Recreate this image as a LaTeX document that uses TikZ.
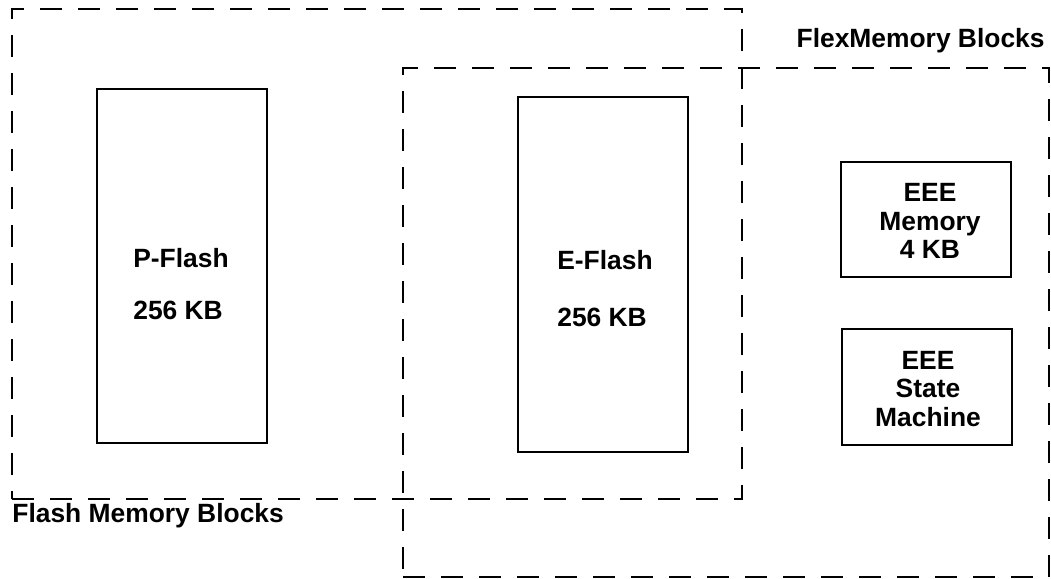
\documentclass[tikz,border=0pt]{standalone}
\usepackage{fontspec}
\setmainfont{Liberation Sans}
\usetikzlibrary{shapes,positioning}

\begin{document}
\begin{tikzpicture}[x=0.5pt, y=-0.5pt, font=\fontsize{13.2}{14.25}\selectfont\bfseries]
  % Styles
  \tikzstyle{group} = [rectangle, draw, line width=1pt, dash pattern=on 11pt off 8pt, inner sep=0pt]
  \tikzstyle{block} = [rectangle, draw, line width=1.25pt, inner sep=0pt]
  \tikzstyle{txt} = [inner sep=0pt, align=center]

  \useasboundingbox (0,0) rectangle (1051,579);

  % Groups
  \node[group, minimum width=365pt, minimum height=245pt] (flashgrp) at (377,254) {};
  \node[group, minimum width=323pt, minimum height=254.5pt] (flexgrp) at (726,322.5) {};
  \node[txt, anchor=base west] (flashlbl) at (12,522) {Flash Memory Blocks};
  \node[txt, anchor=base east] (flexlbl) at (1045,47) {FlexMemory Blocks};

  % Blocks
  \node[block, minimum width=85pt, minimum height=177pt] (pflash) at (182,266) {};
  \node[txt, align=left] (pflashtxt) at (181,284) {P-Flash\\[11.75pt]256 KB};

  \node[block, minimum width=85pt, minimum height=177.5pt] (eflash) at (603,274.5) {};
  \node[txt, align=left] (eflashtxt) at (605,289) {E-Flash\\[14.25pt]256 KB};

  \node[block, minimum width=85pt, minimum height=57.5pt] (eeemem) at (926,219.5) {};
  \node[txt] (eeememtxt) at (930,221) {EEE\\Memory\\4 KB};

  \node[block, minimum width=85pt, minimum height=58pt] (eeesm) at (927,387) {};
  \node[txt] (eeesmtxt) at (928,389) {EEE\\State\\Machine};

\end{tikzpicture}
\end{document}
